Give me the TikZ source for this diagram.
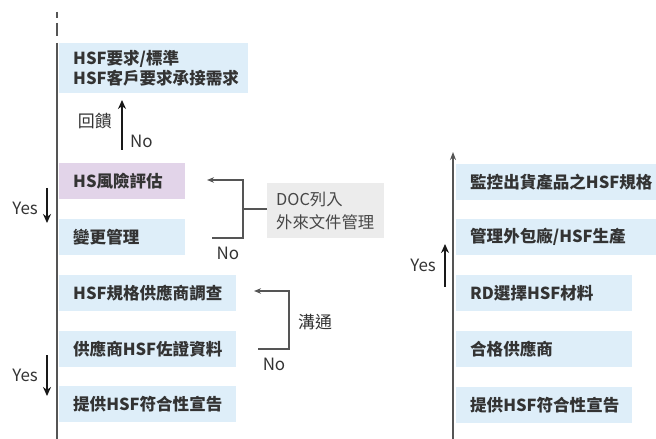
\documentclass[tikz,border=0pt]{standalone}
\usepackage{fontspec}
\setmainfont{Noto Sans CJK TC}
\newfontfamily\cjk{Noto Sans CJK TC}
\usetikzlibrary{arrows.meta}
\definecolor{boxblue}{HTML}{DEEEF9}
\definecolor{boxpurple}{HTML}{E2D4E9}
\definecolor{boxgray}{HTML}{ECECEC}
\definecolor{linegray}{HTML}{555555}
\definecolor{txt}{HTML}{333333}
\begin{document}
\begin{tikzpicture}[x=1bp,y=-1bp,
  box/.style={anchor=north west, inner xsep=14bp, inner ysep=0pt, align=left,
    minimum height=36bp, font=\fontsize{16.6}{21}\selectfont\bfseries, text=txt},
  lbl/.style={font=\fontsize{17}{20}\selectfont, text=txt, inner sep=0pt},
  bigarr/.style={line width=2.6bp, draw=black!90, -{Stealth[length=9bp,width=8bp]}},
  brk/.style={line width=1.5bp, draw=linegray},
  brkarr/.style={brk, -{Stealth[length=7bp,width=5.5bp]}},
  mainline/.style={line width=1.5bp, draw=linegray}]
\useasboundingbox (0,0) rectangle (656,439);
% left column boxes
\node[box, fill=boxblue, minimum width=189bp, minimum height=50bp, text width=161bp] (b1) at (59,43) {HSF要求/標準\\HSF客戶要求承接需求};
\node[box, fill=boxpurple, minimum width=126bp, text width=98bp] (b2) at (59,163) {HS風險評估};
\node[box, fill=boxblue, minimum width=126bp, text width=98bp] (b3) at (59,219) {變更管理};
\node[box, fill=boxblue, minimum width=177bp, text width=149bp] (b4) at (59,275) {HSF規格供應商調查};
\node[box, fill=boxblue, minimum width=177bp, text width=149bp] (b5) at (59,331) {供應商HSF佐證資料};
\node[box, fill=boxblue, minimum width=177bp, text width=149bp] (b6) at (59,386) {提供HSF符合性宣告};
% DOC box
\node[anchor=north west, fill=boxgray, minimum width=117bp, minimum height=55bp, inner xsep=9bp, text width=99bp, align=left,
  font=\fontsize{16.4}{23}\selectfont, text=txt!90] (doc) at (267,183) {DOC列入\\外來文件管理};
% right column boxes
\node[box, fill=boxblue, minimum width=200bp, text width=172bp] (r1) at (456,164) {監控出貨產品之HSF規格};
\node[box, fill=boxblue, minimum width=200bp, text width=172bp] (r2) at (456,219) {管理外包廠/HSF生產};
\node[box, fill=boxblue, minimum width=176bp, text width=148bp] (r3) at (456,275) {RD選擇HSF材料};
\node[box, fill=boxblue, minimum width=176bp, text width=148bp] (r4) at (456,331) {合格供應商};
\node[box, fill=boxblue, minimum width=176bp, text width=148bp] (r5) at (456,387) {提供HSF符合性宣告};
% main vertical lines
\coordinate (ltop) at (57,43);
\coordinate (lbot) at (57,439);
\draw[mainline] (ltop) -- (lbot);
\coordinate (d1a) at (57,12); \coordinate (d1b) at (57,18);
\coordinate (d2a) at (57,23); \coordinate (d2b) at (57,36);
\draw[mainline] (d1a) -- (d1b) (d2a) -- (d2b);
\coordinate (rtop) at (453,152);
\coordinate (rbot) at (453,439);
\draw[mainline, -{Stealth[length=8bp,width=6bp]}] (rbot) -- (rtop);
% feedback arrow
\coordinate (fbs) at (122,150); \coordinate (fbe) at (122,100);
\draw[bigarr] (fbs) -- (fbe);
\node[lbl, anchor=east] (fbl) at (112,121) {回饋};
\node[lbl, anchor=west] (fbno) at (130,141) {No};
% Yes arrows left
\coordinate (y1s) at (47,188); \coordinate (y1e) at (47,223);
\draw[bigarr] (y1s) -- (y1e);
\node[lbl, anchor=east] (y1l) at (38,208) {Yes};
\coordinate (y2s) at (47,355); \coordinate (y2e) at (47,396);
\draw[bigarr] (y2s) -- (y2e);
\node[lbl, anchor=east] (y2l) at (38,375) {Yes};
% Yes arrow right
\coordinate (y3s) at (445,287); \coordinate (y3e) at (445,244);
\draw[bigarr] (y3s) -- (y3e);
\node[lbl, anchor=east] (y3l) at (436,265) {Yes};
% DOC bracket
\coordinate (da) at (212,238); \coordinate (dv1) at (243,238); \coordinate (dv2) at (243,180); \coordinate (dtip) at (207,180);
\coordinate (dmid) at (243,209);
\draw[brkarr] (da) -- (dv1) -- (dv2) -- (dtip);
\draw[brk] (doc.west |- dmid) -- (dmid);
\node[lbl, anchor=center] (dno) at (228,253) {No};
% communication bracket
\coordinate (ca) at (258,349); \coordinate (cv1) at (289,349); \coordinate (cv2) at (289,291); \coordinate (ctip) at (254,291);
\draw[brkarr] (ca) -- (cv1) -- (cv2) -- (ctip);
\node[lbl, anchor=west] (ct) at (298,322) {溝通};
\node[lbl, anchor=center] (cno) at (274,364) {No};
\end{tikzpicture}
\end{document}
